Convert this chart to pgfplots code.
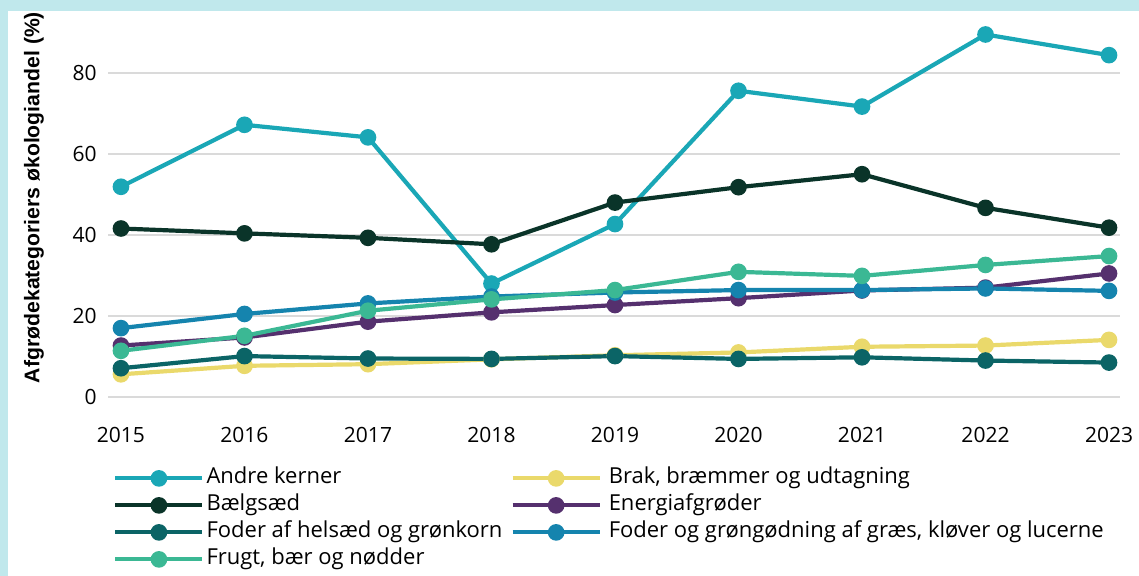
\documentclass[border=0pt]{standalone}
\usepackage{pgfplots}
\pgfplotsset{compat=1.18}
\usepackage{fontspec}
\setmainfont{Open Sans}
\newfontfamily\labfont{Liberation Sans}
\definecolor{bgcyan}{HTML}{C0E8EC}
\definecolor{cAndre}{HTML}{1AA7B6}
\definecolor{cBrak}{HTML}{EAD96B}
\definecolor{cBaelg}{HTML}{0A3429}
\definecolor{cEnergi}{HTML}{55306E}
\definecolor{cHelsaed}{HTML}{0B6466}
\definecolor{cGraes}{HTML}{1584AE}
\definecolor{cFrugt}{HTML}{3BB894}
\definecolor{gridc}{HTML}{DADADA}
\newcommand{\lcell}[1]{\makebox[151pt][l]{#1}}
\newcommand{\rcell}[1]{\hspace*{2.5pt}#1}
\begin{document}
\begin{tikzpicture}
\useasboundingbox (0,0) rectangle (569.5pt,288pt);
\fill[bgcyan] (0,0) rectangle (569.5pt,288pt);
\fill[white] (4.15pt,0) rectangle (569.5pt,282.65pt);
\begin{axis}[
  at={(54pt,89.5pt)}, anchor=south west,
  scale only axis, width=506pt, height=192.4pt,
  xmin=2014.895, xmax=2023.089, ymin=0, ymax=95,
  axis line style={draw=none},
  major tick length=0pt,
  xtick={2015,2016,2017,2018,2019,2020,2021,2022,2023},
  xticklabels={2015,2016,2017,2018,2019,2020,2021,2022,2023},
  ytick={0,20,40,60,80},
  yticklabels={0,20,40,60,80},
  ymajorgrids, xmajorgrids=false,
  grid style={gridc, line width=0.9pt},
  xticklabel style={font=\fontsize{10.5}{12}\selectfont, anchor=base, yshift=-22.7pt, inner sep=0pt},
  yticklabel style={font=\fontsize{10.5}{12}\selectfont, anchor=east, xshift=-5.5pt, inner sep=0pt},
  clip=false,
  every axis plot/.append style={line width=2.1pt, mark=*, mark size=3.1pt, mark options={solid}},
  legend columns=2,
  legend cell align=left,
  legend style={at={(rel axis cs:0.0049,-0.1754)}, anchor=north west, draw=none, fill=none,
    inner sep=0pt, column sep=0pt, row sep=0pt,
    font=\fontsize{11}{13}\selectfont,
    nodes={text height=8pt, text depth=2.5pt, inner xsep=1pt, inner ysep=1.5pt}},
  legend image code/.code={\draw[mark repeat=2,mark phase=2,#1] plot coordinates {(0pt,0pt) (21.75pt,0pt) (43.5pt,0pt)};},
]
\addplot[color=cAndre] coordinates {(2015,51.9) (2016,67.2) (2017,64.1) (2018,28.0) (2019,42.7) (2020,75.6) (2021,71.7) (2022,89.5) (2023,84.4)};
\addlegendentry{\lcell{Andre kerner}}
\addplot[color=cBrak] coordinates {(2015,5.6) (2016,7.7) (2017,8.1) (2018,9.3) (2019,10.3) (2020,11.0) (2021,12.4) (2022,12.7) (2023,14.1)};
\addlegendentry{\rcell{Brak, bræmmer og udtagning}}
\addplot[color=cBaelg] coordinates {(2015,41.6) (2016,40.4) (2017,39.3) (2018,37.7) (2019,48.0) (2020,51.8) (2021,55.0) (2022,46.7) (2023,41.8)};
\addlegendentry{\lcell{Bælgsæd}}
\addplot[color=cEnergi] coordinates {(2015,12.7) (2016,14.7) (2017,18.6) (2018,20.9) (2019,22.7) (2020,24.4) (2021,26.3) (2022,27.0) (2023,30.5)};
\addlegendentry{\rcell{Energiafgrøder}}
\addplot[color=cHelsaed] coordinates {(2015,7.1) (2016,10.1) (2017,9.5) (2018,9.4) (2019,10.1) (2020,9.4) (2021,9.8) (2022,9.0) (2023,8.5)};
\addlegendentry{\lcell{Foder af helsæd og grønkorn}}
\addplot[color=cGraes] coordinates {(2015,17.0) (2016,20.5) (2017,23.1) (2018,24.8) (2019,25.8) (2020,26.4) (2021,26.4) (2022,26.8) (2023,26.2)};
\addlegendentry{\rcell{Foder og grøngødning af græs, kløver og lucerne}}
\addplot[color=cFrugt] coordinates {(2015,11.4) (2016,15.1) (2017,21.3) (2018,24.1) (2019,26.4) (2020,30.9) (2021,29.9) (2022,32.6) (2023,34.8)};
\addlegendentry{\lcell{Frugt, bær og nødder}}
\end{axis}
\node[rotate=90, anchor=center, inner sep=0pt, font=\labfont\bfseries\fontsize{10.6}{13}\selectfont] at (17pt,189.25pt) {Afgrødekategoriers økologiandel (\%)};
\end{tikzpicture}
\end{document}
